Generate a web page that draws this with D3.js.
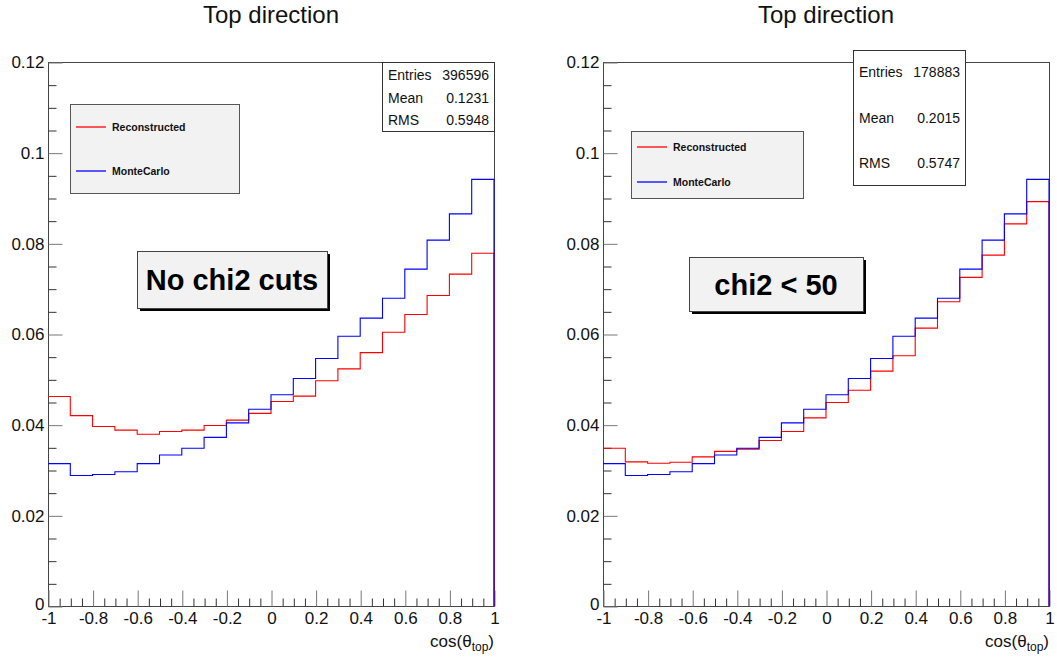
<!DOCTYPE html>
<html>
<head>
<meta charset="utf-8">
<script src="https://cdn.jsdelivr.net/npm/d3@7"></script>
<style>
  body { margin: 0; background: #fff; }
  svg { display: block; font-family: "Liberation Sans", Arial, sans-serif; }
</style>
</head>
<body>
<div id="chart"></div>
<script>
// bin edges of cos(theta_top), 20 bins of 0.1
const binEdges = [-1, -0.9, -0.8, -0.7, -0.6, -0.5, -0.4, -0.3, -0.2, -0.1, 0,
                  0.1, 0.2, 0.3, 0.4, 0.5, 0.6, 0.7, 0.8, 0.9, 1]

// normalised bin contents
const recoNoCut = [0.0462, 0.0420, 0.0396, 0.0388, 0.0379, 0.0385, 0.0388, 0.0398, 0.0410, 0.0425,
                   0.0451, 0.0463, 0.0497, 0.0523, 0.0559, 0.0604, 0.0643, 0.0685, 0.0732, 0.0778]
const recoChi2 = [0.0348, 0.0318, 0.0315, 0.0317, 0.0329, 0.0341, 0.0346, 0.0365, 0.0385, 0.0415,
                  0.0449, 0.0476, 0.0518, 0.0552, 0.0613, 0.0671, 0.0725, 0.0774, 0.0843, 0.0892]
const monteCarlo = [0.0314, 0.0288, 0.0290, 0.0296, 0.0314, 0.0333, 0.0348, 0.0372, 0.0404, 0.0434,
                    0.0466, 0.0502, 0.0546, 0.0595, 0.0635, 0.0679, 0.0743, 0.0807, 0.0865, 0.0941]

const seriesNames = ["Reconstructed", "MonteCarlo"]

const xTicks = [-1, -0.8, -0.6, -0.4, -0.2, 0, 0.2, 0.4, 0.6, 0.8, 1]
const xTickLabels = ["-1", "-0.8", "-0.6", "-0.4", "-0.2", "0", "0.2", "0.4", "0.6", "0.8", "1"]
const yTicks = [0, 0.02, 0.04, 0.06, 0.08, 0.1, 0.12]
const yTickLabels = ["0", "0.02", "0.04", "0.06", "0.08", "0.1", "0.12"]

const statsNoCut = [["Entries", "396596"], ["Mean", "0.1231"], ["RMS", "0.5948"]]
const statsChi2 = [["Entries", "178883"], ["Mean", "0.2015"], ["RMS", "0.5747"]]

const width = 1057, height = 658

const svg = d3.select("#chart").append("svg")
    .attr("width", width)
    .attr("height", height)
    .attr("viewBox", [0, 0, width, height])

function drawPanel(p) {
    const x = d3.scaleLinear().domain([-1, 1]).range([p.left, p.right])
    const y = d3.scaleLinear().domain([0, 0.12]).range([606, 62])
    const g = svg.append("g")

    // title
    g.append("text")
        .attr("x", (p.left + p.right) / 2)
        .attr("y", 23)
        .attr("text-anchor", "middle")
        .attr("font-size", 24)
        .attr("fill", "#111")
        .text("Top direction")

    // frame
    g.append("rect")
        .attr("x", p.left + 0.5)
        .attr("y", y(0.12) + 0.5)
        .attr("width", x(1) - x(-1))
        .attr("height", y(0) - y(0.12))
        .attr("fill", "none")
        .attr("stroke", "#444")

    // x axis, ROOT style ticks pointing inwards
    const minorX = d3.range(-19, 20).map(i => i * 0.05).filter(v => Math.abs(v * 5 - Math.round(v * 5)) > 1e-6)
    g.append("g")
        .attr("transform", `translate(0.5,${y(0) + 0.5})`)
        .call(d3.axisBottom(x).tickValues(minorX).tickSize(-8).tickFormat(""))
        .call(a => a.select(".domain").remove())
        .call(a => a.selectAll("line").attr("stroke", "#333"))
    g.append("g")
        .attr("transform", `translate(0.5,${y(0) + 0.5})`)
        .call(d3.axisBottom(x).tickValues(xTicks).tickSize(-16).tickPadding(5)
            .tickFormat((d, i) => xTickLabels[i]))
        .call(a => a.select(".domain").remove())
        .call(a => a.selectAll("line").attr("stroke", "#777"))
        .call(a => a.selectAll("text").attr("font-size", 17).attr("fill", "#111")
            .attr("font-family", "Liberation Sans, Arial, sans-serif"))

    // y axis
    const minorY = d3.range(1, 24).map(i => i * 0.005).filter(v => Math.abs(v * 50 - Math.round(v * 50)) > 1e-6)
    g.append("g")
        .attr("transform", `translate(${x(-1) + 0.5},0.5)`)
        .call(d3.axisLeft(y).tickValues(minorY).tickSize(-8).tickFormat(""))
        .call(a => a.select(".domain").remove())
        .call(a => a.selectAll("line").attr("stroke", "#333"))
    g.append("g")
        .attr("transform", `translate(${x(-1) + 0.5},0.5)`)
        .call(d3.axisLeft(y).tickValues(yTicks).tickSize(-14).tickPadding(4)
            .tickFormat((d, i) => yTickLabels[i]))
        .call(a => a.select(".domain").remove())
        .call(a => a.selectAll("line").attr("stroke", "#777"))
        .call(a => a.selectAll("text").attr("font-size", 17).attr("fill", "#111")
            .attr("font-family", "Liberation Sans, Arial, sans-serif")
            .attr("dy", d => d === 0 ? "0.2em" : "0.32em"))

    // axis title
    const xt = g.append("text")
        .attr("x", x(1))
        .attr("y", 647)
        .attr("text-anchor", "end")
        .attr("font-size", 17)
        .attr("fill", "#111")
    xt.append("tspan").text("cos(θ")
    xt.append("tspan").attr("font-size", 12).attr("dy", 4).text("top")
    xt.append("tspan").attr("dy", -4).text(")")

    // histograms
    const line = d3.line()
        .x(d => x(d[0]))
        .y(d => y(d[1]))
        .curve(d3.curveStepAfter)
    p.series.forEach(s => {
        const pts = s.values.map((v, i) => [binEdges[i], v])
        pts.push([binEdges[binEdges.length - 1], s.values[s.values.length - 1]])
        pts.push([binEdges[binEdges.length - 1], 0])
        g.append("path")
            .datum(pts)
            .attr("fill", "none")
            .attr("stroke", s.color)
            .attr("stroke-width", 1.1)
            .attr("d", line)
    })

    // stats box
    const sb = p.stats
    g.append("rect")
        .attr("x", sb.x + 0.5).attr("y", sb.y + 0.5)
        .attr("width", sb.w).attr("height", sb.h)
        .attr("fill", "#fff").attr("stroke", "#333")
    p.statRows.forEach((r, i) => {
        g.append("text")
            .attr("x", sb.x + 6).attr("y", sb.rows[i])
            .attr("font-size", 14).attr("fill", "#111")
            .text(r[0])
        g.append("text")
            .attr("x", sb.x + sb.w - 5).attr("y", sb.rows[i])
            .attr("text-anchor", "end")
            .attr("font-size", 14).attr("fill", "#111")
            .text(r[1])
    })

    // legend
    const lg = p.legend
    g.append("rect")
        .attr("x", lg.x + 0.5).attr("y", lg.y + 0.5)
        .attr("width", lg.w).attr("height", lg.h)
        .attr("fill", "#f2f2f2").attr("stroke", "#555")
    p.series.forEach((s, i) => {
        g.append("line")
            .attr("x1", lg.x + 6).attr("x2", lg.x + 36)
            .attr("y1", lg.rows[i]).attr("y2", lg.rows[i])
            .attr("stroke", s.color)
            .attr("stroke-width", 1.3)
        g.append("text")
            .attr("x", lg.x + 42).attr("y", lg.rows[i] + 3.8)
            .attr("font-size", 10.5).attr("font-weight", "bold").attr("fill", "#111")
            .text(s.name)
    })

    // cut label with shadow
    const lb = p.label
    g.append("rect")
        .attr("x", lb.x + 3).attr("y", lb.y + 3)
        .attr("width", lb.w).attr("height", lb.h)
        .attr("fill", "#000")
    g.append("rect")
        .attr("x", lb.x + 0.5).attr("y", lb.y + 0.5)
        .attr("width", lb.w).attr("height", lb.h)
        .attr("fill", "#f2f2f2").attr("stroke", "#444")
    g.append("text")
        .attr("x", lb.x + lb.w / 2).attr("y", lb.base)
        .attr("text-anchor", "middle")
        .attr("font-size", 29).attr("font-weight", "bold").attr("fill", "#000")
        .text(lb.text)
}

drawPanel({
    left: 48, right: 494,
    series: [
        { name: seriesNames[0], values: recoNoCut, color: "#ff0000" },
        { name: seriesNames[1], values: monteCarlo, color: "#0000ff" }
    ],
    statRows: statsNoCut,
    stats: { x: 382, y: 62, w: 112, h: 69, rows: [80, 102.5, 125] },
    legend: { x: 70, y: 104, w: 169, h: 89, rows: [127, 171] },
    label: { x: 137, y: 251, w: 190, h: 57, base: 290, text: "No chi2 cuts" }
})

drawPanel({
    left: 603, right: 1049,
    series: [
        { name: seriesNames[0], values: recoChi2, color: "#ff0000" },
        { name: seriesNames[1], values: monteCarlo, color: "#0000ff" }
    ],
    statRows: statsChi2,
    stats: { x: 853, y: 50, w: 112, h: 135, rows: [77, 123, 168] },
    legend: { x: 631, y: 131, w: 172, h: 67, rows: [147, 182] },
    label: { x: 689, y: 257, w: 174, h: 54, base: 295, text: "chi2 < 50" }
})
</script>
</body>
</html>
